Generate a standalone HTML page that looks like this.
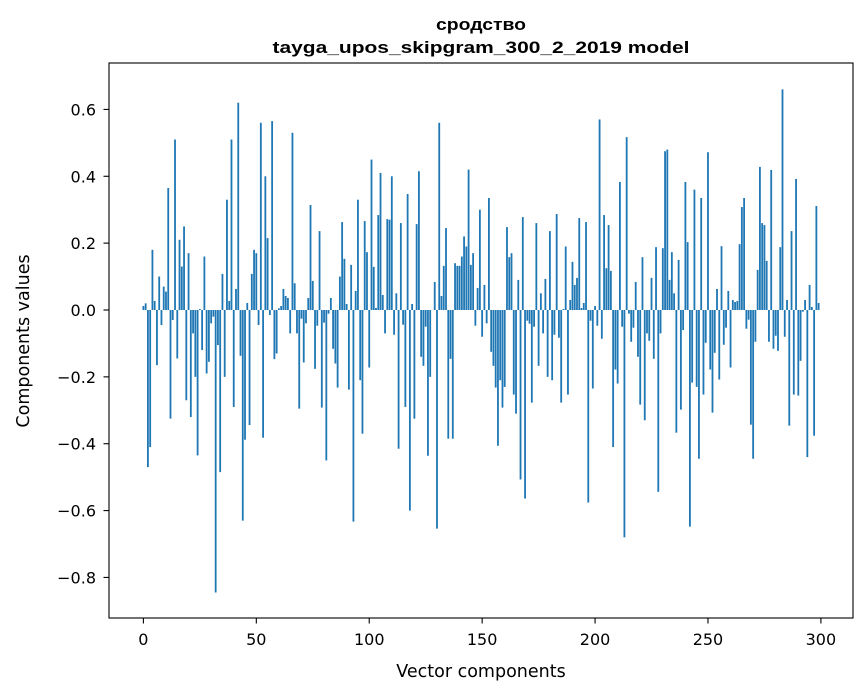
<!DOCTYPE html>
<html><head><meta charset="utf-8"><style>
html,body{margin:0;padding:0;background:#fff;}
svg{display:block;font-family:"DejaVu Sans","Liberation Sans",sans-serif;}
</style></head><body>
<svg id="chart" width="867" height="696" viewBox="0 0 867 696" xmlns="http://www.w3.org/2000/svg">
<rect width="867" height="696" fill="#fff"/>
<text x="481" y="30" text-anchor="middle" font-size="17" font-weight="bold" font-family="Liberation Sans, sans-serif" textLength="90" lengthAdjust="spacingAndGlyphs">сродство</text>
<text x="481" y="53" text-anchor="middle" font-size="17" font-weight="bold" font-family="Liberation Sans, sans-serif" textLength="417" lengthAdjust="spacingAndGlyphs">tayga_upos_skipgram_300_2_2019 model</text>
<g id="bars"></g>
<rect x="109" y="63" width="744" height="555" fill="none" stroke="#000" stroke-width="1.1"/>
<g id="xticks"></g>
<g id="yticks"></g>
<text x="481" y="677" text-anchor="middle" font-size="17.5">Vector components</text>
<text transform="translate(29,341) rotate(-90)" text-anchor="middle" font-size="17.5">Components values</text>
</svg>
<script>
const values = [0.012,0.02,-0.47,-0.41,0.18,0.027,-0.165,0.10,-0.045,0.07,
0.055,0.365,-0.325,-0.03,0.51,-0.145,0.21,0.13,0.25,-0.27,
0.17,-0.32,-0.07,-0.2,-0.435,0.003,-0.12,0.16,-0.19,-0.155,
-0.04,-0.02,-0.845,-0.105,-0.485,0.108,-0.2,0.33,0.027,0.51,
-0.29,0.063,0.62,-0.137,-0.63,-0.388,0.021,-0.344,0.108,0.18,
0.17,-0.045,0.56,-0.382,0.40,0.215,-0.015,0.565,-0.147,-0.13,
0.005,0.012,0.063,0.042,0.036,-0.07,0.53,0.08,-0.07,-0.295,
-0.026,-0.157,-0.04,0.036,0.314,0.087,-0.176,-0.047,0.236,-0.292,
-0.038,-0.45,-0.011,0.036,-0.116,-0.16,-0.232,0.10,0.263,0.153,
0.018,-0.238,0.135,-0.633,0.057,0.33,-0.21,-0.37,0.266,0.173,
-0.172,0.45,0.129,0.006,0.284,0.41,0.045,-0.07,0.272,0.27,
0.40,-0.074,0.05,-0.415,0.26,-0.044,-0.29,0.347,-0.60,0.018,
-0.325,0.257,0.415,-0.14,-0.167,-0.05,-0.436,-0.2,0.0,0.084,
-0.654,0.56,0.042,0.132,0.245,-0.385,-0.146,-0.385,0.14,0.132,
0.132,0.16,0.22,0.19,0.42,0.135,0.17,-0.047,0.066,0.30,
-0.08,0.075,-0.04,0.335,-0.125,-0.167,-0.232,-0.406,-0.21,-0.292,
-0.23,0.248,0.158,0.17,-0.253,-0.31,0.09,-0.507,0.278,-0.564,
-0.032,-0.041,-0.277,-0.05,0.26,-0.167,0.05,-0.07,0.093,-0.2,
0.236,-0.21,-0.074,0.287,-0.083,-0.277,0.003,0.19,-0.253,0.03,
0.144,0.075,0.096,0.275,0.006,0.021,0.263,-0.576,-0.032,-0.235,
0.012,-0.047,0.57,-0.086,0.284,0.125,0.254,0.117,-0.41,-0.178,
-0.22,0.383,-0.05,-0.68,0.517,-0.011,-0.095,-0.053,0.084,-0.14,
-0.283,0.158,-0.33,-0.07,-0.092,0.096,-0.146,0.188,-0.544,-0.07,
0.185,0.475,0.48,0.09,0.173,0.05,-0.367,0.15,-0.298,-0.06,
0.383,0.203,-0.648,-0.217,0.36,-0.23,-0.445,0.335,-0.253,-0.098,
0.472,-0.178,-0.307,-0.128,0.063,-0.208,0.191,-0.104,-0.053,0.057,
-0.172,0.03,0.024,0.027,0.197,0.308,0.335,-0.056,-0.029,-0.343,
-0.445,-0.095,0.12,0.428,0.26,0.254,0.147,-0.095,0.419,-0.116,
-0.077,-0.122,0.188,0.66,-0.08,0.03,-0.346,0.236,-0.253,0.392,
-0.256,-0.152,-0.005,0.03,-0.44,0.075,0.009,-0.376,0.311,0.021];
const xTicks = [0,50,100,150,200,250,300];
const yTicks = [0.6,0.4,0.2,0.0,-0.2,-0.4,-0.6,-0.8];
const NS = "http://www.w3.org/2000/svg";
function xs(v){ return 143.4 + v*2.2583; }
function ys(v){ return 310 - v*334.3; }
const gb = document.getElementById('bars');
values.forEach((v,i)=>{
  const r = document.createElementNS(NS,'rect');
  
  
  const x0 = xs(i-0.4), x1 = xs(i+0.4);
  const y0 = Math.min(ys(v), ys(0)), y1 = Math.max(ys(v), ys(0));
  r.setAttribute('x', x0); r.setAttribute('width', x1-x0);
  r.setAttribute('y', y0); r.setAttribute('height', Math.max(y1-y0,0.01));
  r.setAttribute('fill','#1f77b4');
  gb.appendChild(r);
});
const gx = document.getElementById('xticks');
xTicks.forEach(t=>{
  const l = document.createElementNS(NS,'line');
  
  
  l.setAttribute('x1',xs(t)); l.setAttribute('x2',xs(t));
  l.setAttribute('y1',618); l.setAttribute('y2',623.5);
  l.setAttribute('stroke','#000'); l.setAttribute('stroke-width','1.1');
  gx.appendChild(l);
  const tx = document.createElementNS(NS,'text');
  
  
  tx.setAttribute('x',xs(t)); tx.setAttribute('y',645);
  tx.setAttribute('text-anchor','middle'); tx.setAttribute('font-size','16');
  tx.textContent = String(t);
  gx.appendChild(tx);
});
const gy = document.getElementById('yticks');
yTicks.forEach(t=>{
  const l = document.createElementNS(NS,'line');
  
  
  l.setAttribute('x1',103.5); l.setAttribute('x2',109);
  l.setAttribute('y1',ys(t)); l.setAttribute('y2',ys(t));
  l.setAttribute('stroke','#000'); l.setAttribute('stroke-width','1.1');
  gy.appendChild(l);
  const tx = document.createElementNS(NS,'text');
  
  
  tx.setAttribute('x',96); tx.setAttribute('y',ys(t)+6);
  tx.setAttribute('text-anchor','end'); tx.setAttribute('font-size','16');
  tx.textContent = (t<0?'\u2212':'') + Math.abs(t).toFixed(1);
  gy.appendChild(tx);
});
</script>
</body></html>
